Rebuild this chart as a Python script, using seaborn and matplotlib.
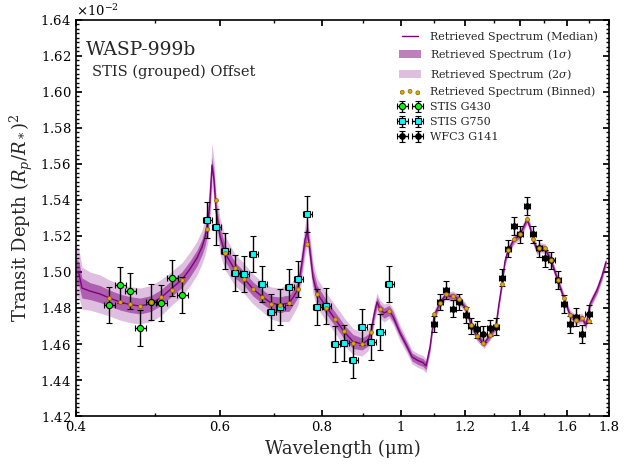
import numpy as np
import matplotlib
matplotlib.use("Agg")
import matplotlib.pyplot as plt
import seaborn as sns
from matplotlib.ticker import (FixedLocator, FixedFormatter, NullFormatter,
                               MultipleLocator, AutoMinorLocator, ScalarFormatter)

# all depths are in units of 1e-2
SCALE = 1e-2

# retrieved model spectrum (median, 1 sigma and 2 sigma half widths)
wl_model = [0.4000, 0.4034, 0.4068, 0.4161, 0.4280, 0.4394, 0.4529, 0.4658, 0.4792, 0.4943,
            0.5084, 0.5245, 0.5395, 0.5518, 0.5628, 0.5708, 0.5757, 0.5805, 0.5838, 0.5871,
            0.5905, 0.5938, 0.6005, 0.6091, 0.6265, 0.6426, 0.6591, 0.6761, 0.6935, 0.7113,
            0.7214, 0.7296, 0.7400, 0.7484, 0.7569, 0.7633, 0.7683, 0.7742, 0.7808, 0.7896,
            0.8099, 0.8308, 0.8521, 0.8740, 0.8965, 0.9118, 0.9196, 0.9274, 0.9353, 0.9433,
            0.9540, 0.9675, 0.9785, 0.9980, 1.0179, 1.0324, 1.0500, 1.0649, 1.0740, 1.0862,
            1.0985, 1.1173, 1.1363, 1.1492, 1.1590, 1.1788, 1.2023, 1.2194, 1.2402, 1.2650,
            1.2866, 1.3085, 1.3197, 1.3309, 1.3422, 1.3536, 1.3767, 1.4002, 1.4282, 1.4403,
            1.4526, 1.4690, 1.4774, 1.5026, 1.5282, 1.5587, 1.5853, 1.6124, 1.6399, 1.6679,
            1.6869, 1.7060, 1.7401, 1.7648, 1.7848]
depth_model = [1.5006, 1.4989, 1.4911, 1.4894, 1.4878, 1.4856, 1.4833, 1.4819, 1.4811, 1.4825,
               1.4858, 1.4911, 1.4958, 1.5017, 1.5078, 1.5139, 1.5194, 1.5278, 1.5400, 1.5594,
               1.5511, 1.5344, 1.5200, 1.5106, 1.5011, 1.4964, 1.4906, 1.4864, 1.4828, 1.4817,
               1.4825, 1.4825, 1.4867, 1.4906, 1.5056, 1.5178, 1.5228, 1.5111, 1.4967, 1.4883,
               1.4808, 1.4739, 1.4669, 1.4614, 1.4600, 1.4622, 1.4667, 1.4761, 1.4833, 1.4794,
               1.4772, 1.4786, 1.4753, 1.4661, 1.4586, 1.4528, 1.4508, 1.4497, 1.4478, 1.4583,
               1.4756, 1.4828, 1.4875, 1.4864, 1.4867, 1.4847, 1.4797, 1.4708, 1.4642, 1.4603,
               1.4647, 1.4703, 1.4825, 1.4933, 1.5061, 1.5119, 1.5181, 1.5208, 1.5292, 1.5250,
               1.5181, 1.5122, 1.5136, 1.5131, 1.5064, 1.4950, 1.4853, 1.4761, 1.4736, 1.4744,
               1.4706, 1.4822, 1.4900, 1.4978, 1.5056]
sig1_model = [0.0067, 0.0067, 0.0056, 0.0047, 0.0047, 0.0044, 0.0044, 0.0044, 0.0044, 0.0044,
              0.0044, 0.0044, 0.0044, 0.0044, 0.0044, 0.0044, 0.0050, 0.0056, 0.0056, 0.0044,
              0.0044, 0.0050, 0.0050, 0.0044, 0.0044, 0.0039, 0.0039, 0.0039, 0.0039, 0.0044,
              0.0044, 0.0044, 0.0044, 0.0044, 0.0044, 0.0044, 0.0044, 0.0044, 0.0044, 0.0044,
              0.0039, 0.0039, 0.0039, 0.0039, 0.0033, 0.0033, 0.0028, 0.0028, 0.0028, 0.0028,
              0.0028, 0.0028, 0.0028, 0.0022, 0.0022, 0.0022, 0.0022, 0.0022, 0.0022, 0.0022,
              0.0017, 0.0017, 0.0017, 0.0017, 0.0017, 0.0017, 0.0017, 0.0017, 0.0017, 0.0017,
              0.0017, 0.0017, 0.0017, 0.0017, 0.0017, 0.0017, 0.0017, 0.0017, 0.0017, 0.0017,
              0.0017, 0.0017, 0.0017, 0.0017, 0.0017, 0.0017, 0.0017, 0.0017, 0.0017, 0.0017,
              0.0017, 0.0017, 0.0017, 0.0017, 0.0017]
sig2_model = [0.0139, 0.0133, 0.0117, 0.0106, 0.0106, 0.0100, 0.0100, 0.0100, 0.0100, 0.0100,
              0.0100, 0.0094, 0.0094, 0.0094, 0.0094, 0.0094, 0.0100, 0.0111, 0.0122, 0.0122,
              0.0111, 0.0100, 0.0100, 0.0094, 0.0089, 0.0083, 0.0083, 0.0083, 0.0089, 0.0094,
              0.0100, 0.0100, 0.0094, 0.0089, 0.0089, 0.0089, 0.0089, 0.0089, 0.0089, 0.0083,
              0.0078, 0.0078, 0.0078, 0.0072, 0.0067, 0.0061, 0.0056, 0.0056, 0.0050, 0.0050,
              0.0050, 0.0044, 0.0044, 0.0044, 0.0039, 0.0039, 0.0039, 0.0039, 0.0039, 0.0033,
              0.0033, 0.0028, 0.0028, 0.0028, 0.0028, 0.0028, 0.0028, 0.0028, 0.0028, 0.0028,
              0.0028, 0.0028, 0.0028, 0.0028, 0.0028, 0.0028, 0.0028, 0.0028, 0.0028, 0.0028,
              0.0028, 0.0028, 0.0028, 0.0028, 0.0028, 0.0028, 0.0028, 0.0028, 0.0028, 0.0028,
              0.0028, 0.0028, 0.0028, 0.0028, 0.0028]

# STIS G430
wl_g430 = [0.4394, 0.4533, 0.4662, 0.4796, 0.4947, 0.5089, 0.5252, 0.5402]
xerr_g430 = [0.0068, 0.0070, 0.0072, 0.0074, 0.0077, 0.0079, 0.0081, 0.0084]
depth_g430 = [1.4815, 1.4926, 1.4894, 1.4687, 1.4832, 1.4826, 1.4965, 1.4871]
err_g430 = [0.010, 0.010, 0.010, 0.010, 0.010, 0.010, 0.010, 0.010]
binned_g430 = [1.4854, 1.4832, 1.4821, 1.4809, 1.4832, 1.4859, 1.4900, 1.4956]

# STIS G750
wl_g750 = [0.5794, 0.5943, 0.6096, 0.6270, 0.6431, 0.6597, 0.6767, 0.6941, 0.7119, 0.7302,
           0.7490, 0.7683, 0.7903, 0.8106, 0.8315, 0.8528, 0.8748, 0.8973, 0.9204, 0.9440,
           0.9683]
xerr_g750 = [0.0074, 0.0076, 0.0078, 0.0080, 0.0082, 0.0084, 0.0087, 0.0089, 0.0091, 0.0093,
             0.0096, 0.0098, 0.0101, 0.0104, 0.0106, 0.0109, 0.0112, 0.0115, 0.0118, 0.0121,
             0.0124]
depth_g750 = [1.5287, 1.5248, 1.5115, 1.4993, 1.4987, 1.5098, 1.4932, 1.4776, 1.4804, 1.4915,
              1.4959, 1.5321, 1.4804, 1.4809, 1.4598, 1.4604, 1.4509, 1.4693, 1.4609, 1.4665,
              1.4932]
err_g750 = [0.010] * 21
binned_g750 = [1.5237, 1.5398, 1.5104, 1.5021, 1.4959, 1.4904, 1.4859, 1.4821, 1.4815, 1.4826,
               1.4904, 1.5154, 1.4876, 1.4798, 1.4737, 1.4671, 1.4604, 1.4598, 1.4665, 1.4793,
               1.4782]

# WFC3 G141
wl_wfc3 = [1.099, 1.118, 1.137, 1.160, 1.180, 1.201, 1.221, 1.241, 1.263, 1.287,
           1.310, 1.332, 1.355, 1.378, 1.401, 1.429, 1.453, 1.479, 1.504, 1.530,
           1.557, 1.587, 1.613, 1.641, 1.669, 1.699]
xerr_wfc3 = [0.0096, 0.0098, 0.0099, 0.0101, 0.0103, 0.0105, 0.0107, 0.0109, 0.0111, 0.0113,
             0.0115, 0.0117, 0.0119, 0.0121, 0.0123, 0.0125, 0.0127, 0.0130, 0.0132, 0.0134,
             0.0136, 0.0139, 0.0141, 0.0144, 0.0146, 0.0149]
depth_wfc3 = [1.4711, 1.4833, 1.4900, 1.4796, 1.4833, 1.4761, 1.4700, 1.4682, 1.4656, 1.4689,
              1.4696, 1.4967, 1.5129, 1.5256, 1.5209, 1.5367, 1.5209, 1.5132, 1.5076, 1.5064,
              1.4954, 1.4821, 1.4709, 1.4752, 1.4654, 1.4765]
err_wfc3 = [0.0046, 0.0046, 0.0048, 0.0046, 0.0045, 0.0046, 0.0045, 0.0046, 0.0046, 0.0046,
            0.0046, 0.0047, 0.0047, 0.0048, 0.0048, 0.0049, 0.0048, 0.0048, 0.0048, 0.0048,
            0.0049, 0.0049, 0.0049, 0.0050, 0.0050, 0.0050]
binned_wfc3 = [1.4765, 1.4826, 1.4876, 1.4865, 1.4848, 1.4800, 1.4703, 1.4642, 1.4604, 1.4648,
               1.4703, 1.4935, 1.5121, 1.5182, 1.5209, 1.5293, 1.5182, 1.5134, 1.5132, 1.5064,
               1.4954, 1.4854, 1.4759, 1.4736, 1.4744, 1.4725]

xtick_vals = [0.4, 0.6, 0.8, 1.0, 1.2, 1.4, 1.6, 1.8]
xtick_labels = ['0.4', '0.6', '0.8', '1', '1.2', '1.4', '1.6', '1.8']
xminor_vals = [0.5, 0.7, 0.9, 1.1, 1.3, 1.5, 1.7]

sns.set_theme(style='ticks', rc={
    'xtick.direction': 'in', 'ytick.direction': 'in',
    'xtick.top': True, 'ytick.right': True,
    'xtick.major.size': 4, 'ytick.major.size': 4,
    'xtick.minor.size': 2, 'ytick.minor.size': 2,
    'axes.linewidth': 1.2, 'axes.edgecolor': 'black',
    'mathtext.fontset': 'dejavuserif',
})
plt.rcParams['font.family'] = 'serif'
plt.rcParams['font.serif'] = ['DejaVu Serif']

fig = plt.figure(figsize=(6.27, 4.67), dpi=100)
ax = fig.add_axes([0.1212, 0.1092, 0.8501, 0.8480])

wl = np.array(wl_model)
med = np.array(depth_model) * SCALE
s1 = np.array(sig1_model) * SCALE
s2 = np.array(sig2_model) * SCALE

band2 = ax.fill_between(wl, med - s2, med + s2, color='purple', alpha=0.25, lw=0,
                        label=r'Retrieved Spectrum ($2\sigma$)')
band1 = ax.fill_between(wl, med - s1, med + s1, color='purple', alpha=0.5, lw=0,
                        label=r'Retrieved Spectrum ($1\sigma$)')
sns.lineplot(x=wl, y=med, ax=ax, color='purple', lw=1.0, sort=False, estimator=None,
             label='Retrieved Spectrum (Median)')

eb_style = dict(ecolor='black', elinewidth=1.0, capsize=2, capthick=1.0, mec='black',
                mew=0.8, ls='none', zorder=4)
eb1 = ax.errorbar(wl_g430, np.array(depth_g430) * SCALE, yerr=np.array(err_g430) * SCALE,
                  xerr=xerr_g430, fmt='o', mfc='lime', ms=4.5, label='STIS G430', **eb_style)
eb2 = ax.errorbar(wl_g750, np.array(depth_g750) * SCALE, yerr=np.array(err_g750) * SCALE,
                  xerr=xerr_g750, fmt='s', mfc='cyan', ms=5, label='STIS G750', **eb_style)
eb3 = ax.errorbar(wl_wfc3, np.array(depth_wfc3) * SCALE, yerr=np.array(err_wfc3) * SCALE,
                  xerr=xerr_wfc3, fmt='o', mfc='black', ms=4, label='WFC3 G141', **eb_style)

binned_x = wl_g430 + wl_g750 + wl_wfc3
binned_y = np.array(binned_g430 + binned_g750 + binned_wfc3) * SCALE
sns.scatterplot(x=binned_x, y=binned_y, ax=ax, color='#e0a800', edgecolor='#8a5e00',
                s=8, linewidth=0.5, zorder=5, label='Retrieved Spectrum (Binned)')

ax.set_xscale('log')
ax.set_xlim(0.4, 1.8)
ax.set_ylim(0.0142, 0.0164)
ax.xaxis.set_major_locator(FixedLocator(xtick_vals))
ax.xaxis.set_major_formatter(FixedFormatter(xtick_labels))
ax.xaxis.set_minor_locator(FixedLocator(xminor_vals))
ax.xaxis.set_minor_formatter(NullFormatter())
ax.yaxis.set_major_locator(MultipleLocator(0.0002))
ax.yaxis.set_minor_locator(AutoMinorLocator(8))
fmt = ScalarFormatter(useMathText=True)
fmt.set_powerlimits((-2, -2))
fmt.set_useOffset(False)
ax.yaxis.set_major_formatter(fmt)
ax.tick_params(which='both', labelsize=9.5, colors='black')
ax.yaxis.get_offset_text().set_fontsize(9.5)

ax.set_xlabel('Wavelength (μm)', fontsize=13)
ax.set_ylabel(r'Transit Depth $(R_p/R_*)^2$', fontsize=13)

ax.text(0.019, 0.912, 'WASP-999b', transform=ax.transAxes, fontsize=13.5)
ax.text(0.030, 0.858, 'STIS (grouped) Offset', transform=ax.transAxes, fontsize=10.5)

handles, labels = ax.get_legend_handles_labels()
lookup = dict(zip(labels, handles))
order = ['Retrieved Spectrum (Median)', r'Retrieved Spectrum ($1\sigma$)',
         r'Retrieved Spectrum ($2\sigma$)', 'Retrieved Spectrum (Binned)',
         'STIS G430', 'STIS G750', 'WFC3 G141']
ax.legend([lookup[k] for k in order], order, loc='upper right', frameon=False,
          fontsize=8, numpoints=2, scatterpoints=3, handlelength=2.0,
          borderaxespad=0.6, labelspacing=0.45)

fig.savefig('out.png', dpi=100, facecolor='white')
